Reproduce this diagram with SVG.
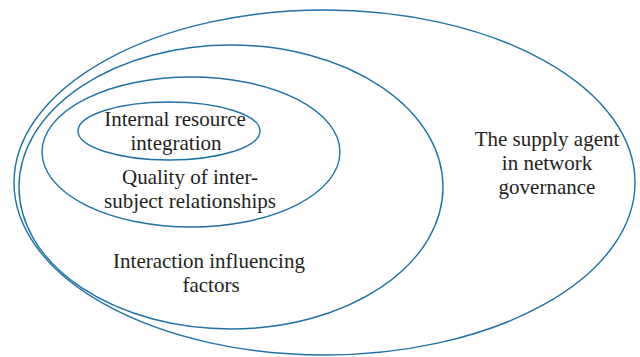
<svg xmlns="http://www.w3.org/2000/svg" width="640" height="357" viewBox="0 0 640 357">
<style>
.ring{fill:none;stroke:#1f72a3;stroke-width:1.4}
.lbl{font-family:"Liberation Serif","DejaVu Serif",serif;font-size:21px;fill:#231f20;text-anchor:middle}
</style>
<rect width="640" height="357" fill="#ffffff"/>
<g id="supply-agent">
<ellipse class="ring" cx="324.5" cy="182.5" rx="310.5" ry="172.5"/>
<text class="lbl" x="547" y="146">The supply agent</text>
<text class="lbl" x="547" y="170">in network</text>
<text class="lbl" x="547" y="194">governance</text>
</g>
<g id="interaction">
<ellipse class="ring" cx="231" cy="187" rx="212" ry="142"/>
<text class="lbl" x="209" y="268">Interaction influencing</text>
<text class="lbl" x="211" y="292">factors</text>
</g>
<g id="quality">
<ellipse class="ring" cx="191" cy="152" rx="149" ry="75"/>
<text class="lbl" x="190" y="184">Quality of inter-</text>
<text class="lbl" x="190" y="208">subject relationships</text>
</g>
<g id="internal">
<ellipse class="ring" cx="169" cy="131" rx="91" ry="29"/>
<text class="lbl" x="175" y="126">Internal resource</text>
<text class="lbl" x="176" y="150">integration</text>
</g>
<g id="connectors"></g>
</svg>
